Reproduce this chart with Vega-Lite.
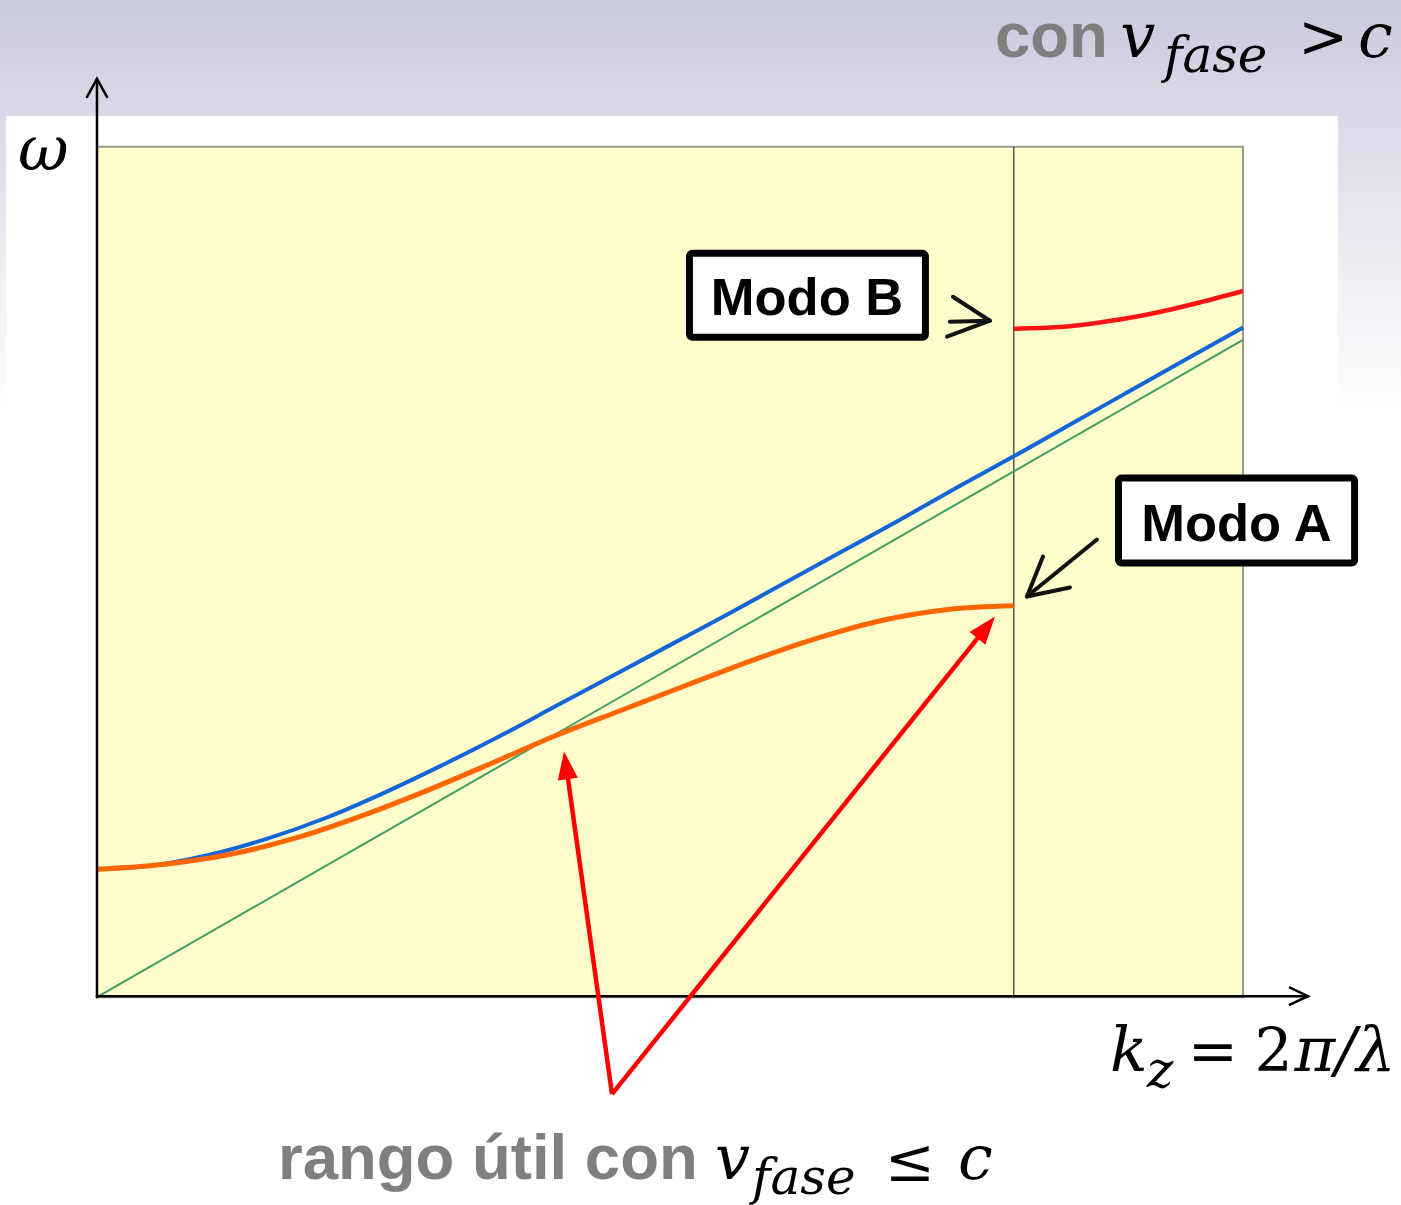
{
  "$schema": "https://vega.github.io/schema/vega-lite/v6.json",
  "width": 1401,
  "height": 1205,
  "autosize": {"type": "fit", "contains": "padding"},
  "padding": 0,
  "background": "#ffffff",
  "config": {"view": {"stroke": null}},
  "datasets": {
    "backdrop": [{"x0": -0.8464, "x1": 11.379, "y0": 6.9, "y1": 11.727}],
    "slide": [{"x0": -0.794, "x1": 10.829, "y0": -2.4324, "y1": 10.364}],
    "panel": [{"x0": 0, "x1": 10, "y0": 0, "y1": 10}],
    "cutoff": [{"k": 8, "w0": 0, "w1": 10}],
    "curves": [
      {"series": "luz", "k": 0, "w": 0},
      {"series": "luz", "k": 2, "w": 1.546},
      {"series": "luz", "k": 4, "w": 3.092},
      {"series": "luz", "k": 6, "w": 4.638},
      {"series": "luz", "k": 8, "w": 6.184},
      {"series": "luz", "k": 10, "w": 7.73},
      {"series": "guia", "k": 0, "w": 1.504},
      {"series": "guia", "k": 0.5, "w": 1.55},
      {"series": "guia", "k": 1, "w": 1.68},
      {"series": "guia", "k": 1.5, "w": 1.87},
      {"series": "guia", "k": 2, "w": 2.11},
      {"series": "guia", "k": 2.5, "w": 2.4},
      {"series": "guia", "k": 3, "w": 2.72},
      {"series": "guia", "k": 3.5, "w": 3.06},
      {"series": "guia", "k": 4, "w": 3.42},
      {"series": "guia", "k": 4.5, "w": 3.78},
      {"series": "guia", "k": 5, "w": 4.14},
      {"series": "guia", "k": 5.5, "w": 4.5},
      {"series": "guia", "k": 6, "w": 4.87},
      {"series": "guia", "k": 6.5, "w": 5.24},
      {"series": "guia", "k": 7, "w": 5.61},
      {"series": "guia", "k": 7.5, "w": 5.99},
      {"series": "guia", "k": 8, "w": 6.36},
      {"series": "guia", "k": 8.5, "w": 6.74},
      {"series": "guia", "k": 9, "w": 7.12},
      {"series": "guia", "k": 9.5, "w": 7.5},
      {"series": "guia", "k": 10, "w": 7.875},
      {"series": "modoA", "k": 0, "w": 1.504},
      {"series": "modoA", "k": 0.571, "w": 1.561},
      {"series": "modoA", "k": 1.143, "w": 1.675},
      {"series": "modoA", "k": 1.714, "w": 1.864},
      {"series": "modoA", "k": 2.286, "w": 2.121},
      {"series": "modoA", "k": 2.857, "w": 2.418},
      {"series": "modoA", "k": 3.429, "w": 2.743},
      {"series": "modoA", "k": 4.0, "w": 3.074},
      {"series": "modoA", "k": 4.571, "w": 3.371},
      {"series": "modoA", "k": 5.143, "w": 3.668},
      {"series": "modoA", "k": 5.714, "w": 3.959},
      {"series": "modoA", "k": 6.286, "w": 4.222},
      {"series": "modoA", "k": 6.857, "w": 4.433},
      {"series": "modoA", "k": 7.429, "w": 4.559},
      {"series": "modoA", "k": 8.0, "w": 4.602},
      {"series": "modoB", "k": 8.0, "w": 7.861},
      {"series": "modoB", "k": 8.4, "w": 7.88},
      {"series": "modoB", "k": 8.75, "w": 7.935},
      {"series": "modoB", "k": 9.19, "w": 8.035},
      {"series": "modoB", "k": 9.62, "w": 8.17},
      {"series": "modoB", "k": 10.0, "w": 8.305}
    ],
    "axes": [
      {"path": "yaxis", "i": 0, "k": 0, "w": 0},
      {"path": "yaxis", "i": 1, "k": 0, "w": 10.8},
      {"path": "yhead", "i": 0, "k": -0.0873, "w": 10.588},
      {"path": "yhead", "i": 1, "k": 0, "w": 10.8},
      {"path": "yhead", "i": 2, "k": 0.0873, "w": 10.588},
      {"path": "xaxis", "i": 0, "k": 0, "w": 0.012},
      {"path": "xaxis", "i": 1, "k": 10.567, "w": 0.012},
      {"path": "xhead", "i": 0, "k": 10.41, "w": 0.112},
      {"path": "xhead", "i": 1, "k": 10.567, "w": 0.012},
      {"path": "xhead", "i": 2, "k": 10.41, "w": -0.088}
    ],
    "pointers": [
      {"path": "bShaft", "i": 0, "k": 7.443, "w": 7.944},
      {"path": "bShaft", "i": 1, "k": 7.792, "w": 7.955},
      {"path": "bHead", "i": 0, "k": 7.469, "w": 8.237},
      {"path": "bHead", "i": 1, "k": 7.792, "w": 7.955},
      {"path": "bHead", "i": 2, "k": 7.417, "w": 7.768},
      {"path": "aShaft", "i": 0, "k": 8.726, "w": 5.382},
      {"path": "aShaft", "i": 1, "k": 8.115, "w": 4.712},
      {"path": "aHead", "i": 0, "k": 8.255, "w": 5.182},
      {"path": "aHead", "i": 1, "k": 8.115, "w": 4.712},
      {"path": "aHead", "i": 2, "k": 8.49, "w": 4.818}
    ],
    "shafts": [
      {"path": "uno", "i": 0, "k": 4.494, "w": -1.14},
      {"path": "uno", "i": 1, "k": 4.101, "w": 2.656},
      {"path": "dos", "i": 0, "k": 4.494, "w": -1.14},
      {"path": "dos", "i": 1, "k": 7.727, "w": 4.294}
    ],
    "tips": [
      {"tip": "uno", "k": 4.075, "w": 2.891},
      {"tip": "dos", "k": 7.836, "w": 4.477}
    ],
    "boxes": [
      {"name": "Modo B", "x0": 5.17, "x1": 7.229, "y0": 7.761, "y1": 8.748},
      {"name": "Modo A", "x0": 8.914, "x1": 10.974, "y0": 5.106, "y1": 6.105}
    ],
    "labels": [
      {"role": "box", "txt": "Modo B", "k": 6.196, "w": 8.026},
      {"role": "box", "txt": "Modo A", "k": 9.943, "w": 5.37},
      {"role": "gray", "txt": "con", "k": 7.836, "w": 11.057},
      {"role": "math", "txt": "v", "k": 8.93, "w": 11.057},
      {"role": "sub", "txt": "fase", "k": 9.31, "w": 10.88},
      {"role": "opC", "txt": ">", "k": 10.7, "w": 11.057},
      {"role": "math", "txt": "c", "k": 11.003, "w": 11.057},
      {"role": "gray", "txt": "rango útil con", "k": 1.579, "w": -2.139},
      {"role": "math", "txt": "v", "k": 5.393, "w": -2.139},
      {"role": "sub", "txt": "fase", "k": 5.716, "w": -2.315},
      {"role": "opC", "txt": "≤", "k": 7.094, "w": -2.16},
      {"role": "math", "txt": "c", "k": 7.513, "w": -2.139},
      {"role": "math", "txt": "ω", "k": -0.689, "w": 9.73},
      {"role": "math", "txt": "k", "k": 8.839, "w": -0.87},
      {"role": "sub", "txt": "z", "k": 9.162, "w": -1.058},
      {"role": "opC", "txt": "=", "k": 9.738, "w": -0.87},
      {"role": "opL", "txt": "2", "k": 10.1, "w": -0.87},
      {"role": "math", "txt": "π/λ", "k": 10.45, "w": -0.87}
    ]
  },
  "encoding": {
    "x": {"type": "quantitative", "scale": {"domain": [-0.8464, 11.379], "nice": false, "zero": false}, "axis": null},
    "y": {"type": "quantitative", "scale": {"domain": [-2.4324, 11.727], "nice": false, "zero": false}, "axis": null}
  },
  "layer": [
    {
      "data": {"name": "backdrop"},
      "mark": {"type": "rect", "fill": {"gradient": "linear", "x1": 0, "y1": 0, "x2": 0, "y2": 1, "stops": [{"offset": 0, "color": "#c9c9dd"}, {"offset": 0.35, "color": "#dedeea"}, {"offset": 1, "color": "#ffffff"}]}},
      "encoding": {"x": {"field": "x0"}, "x2": {"field": "x1"}, "y": {"field": "y0"}, "y2": {"field": "y1"}}
    },
    {
      "data": {"name": "slide"},
      "mark": {"type": "rect", "fill": "#ffffff"},
      "encoding": {"x": {"field": "x0"}, "x2": {"field": "x1"}, "y": {"field": "y0"}, "y2": {"field": "y1"}}
    },
    {
      "data": {"name": "panel"},
      "mark": {"type": "rect", "fill": "#fffdcc", "stroke": "#9a9a90", "strokeWidth": 2},
      "encoding": {"x": {"field": "x0"}, "x2": {"field": "x1"}, "y": {"field": "y0"}, "y2": {"field": "y1"}}
    },
    {
      "data": {"name": "cutoff"},
      "mark": {"type": "rule", "color": "#555555", "strokeWidth": 1.5},
      "encoding": {"x": {"field": "k"}, "y": {"field": "w0"}, "y2": {"field": "w1"}}
    },
    {
      "data": {"name": "curves"},
      "transform": [{"filter": "datum.series === 'luz'"}],
      "mark": {"type": "line", "color": "#3f9f62", "strokeWidth": 2},
      "encoding": {"x": {"field": "k"}, "y": {"field": "w"}}
    },
    {
      "data": {"name": "curves"},
      "transform": [{"filter": "datum.series === 'guia'"}],
      "mark": {"type": "line", "color": "#1466d6", "strokeWidth": 4, "interpolate": "monotone"},
      "encoding": {"x": {"field": "k"}, "y": {"field": "w"}}
    },
    {
      "data": {"name": "curves"},
      "transform": [{"filter": "datum.series === 'modoA'"}],
      "mark": {"type": "line", "color": "#ff6600", "strokeWidth": 5, "interpolate": "monotone"},
      "encoding": {"x": {"field": "k"}, "y": {"field": "w"}}
    },
    {
      "data": {"name": "curves"},
      "transform": [{"filter": "datum.series === 'modoB'"}],
      "mark": {"type": "line", "color": "#ff1414", "strokeWidth": 4.5, "interpolate": "monotone"},
      "encoding": {"x": {"field": "k"}, "y": {"field": "w"}}
    },
    {
      "data": {"name": "axes"},
      "mark": {"type": "line", "color": "#000000", "strokeWidth": 2.5, "strokeCap": "round"},
      "encoding": {"x": {"field": "k"}, "y": {"field": "w"}, "detail": {"field": "path"}, "order": {"field": "i"}}
    },
    {
      "data": {"name": "pointers"},
      "mark": {"type": "line", "color": "#111111", "strokeWidth": 4, "strokeCap": "round", "strokeJoin": "round"},
      "encoding": {"x": {"field": "k"}, "y": {"field": "w"}, "detail": {"field": "path"}, "order": {"field": "i"}}
    },
    {
      "data": {"name": "shafts"},
      "mark": {"type": "line", "color": "#ff0000", "strokeWidth": 4.5},
      "encoding": {"x": {"field": "k"}, "y": {"field": "w"}, "detail": {"field": "path"}, "order": {"field": "i"}}
    },
    {
      "data": {"name": "tips"},
      "transform": [{"filter": "datum.tip === 'uno'"}],
      "mark": {"type": "point", "shape": "M0,0L0.36,1L-0.36,1Z", "size": 3136, "angle": -7.9, "filled": true, "color": "#ff0000", "opacity": 1},
      "encoding": {"x": {"field": "k"}, "y": {"field": "w"}}
    },
    {
      "data": {"name": "tips"},
      "transform": [{"filter": "datum.tip === 'dos'"}],
      "mark": {"type": "point", "shape": "M0,0L0.36,1L-0.36,1Z", "size": 3136, "angle": 38.7, "filled": true, "color": "#ff0000", "opacity": 1},
      "encoding": {"x": {"field": "k"}, "y": {"field": "w"}}
    },
    {
      "data": {"name": "boxes"},
      "mark": {"type": "rect", "fill": "#ffffff", "stroke": "#000000", "strokeWidth": 7, "cornerRadius": 3},
      "encoding": {"x": {"field": "x0"}, "x2": {"field": "x1"}, "y": {"field": "y0"}, "y2": {"field": "y1"}}
    },
    {
      "data": {"name": "labels"},
      "transform": [{"filter": "datum.role === 'box'"}],
      "mark": {"type": "text", "font": "Liberation Sans", "fontWeight": "bold", "fontSize": 52.5, "align": "center", "baseline": "alphabetic", "color": "#000000"},
      "encoding": {"x": {"field": "k"}, "y": {"field": "w"}, "text": {"field": "txt"}}
    },
    {
      "data": {"name": "labels"},
      "transform": [{"filter": "datum.role === 'gray'"}],
      "mark": {"type": "text", "font": "Liberation Sans", "fontWeight": "bold", "fontSize": 63.5, "align": "left", "baseline": "alphabetic", "color": "#7f7f7f"},
      "encoding": {"x": {"field": "k"}, "y": {"field": "w"}, "text": {"field": "txt"}}
    },
    {
      "data": {"name": "labels"},
      "transform": [{"filter": "datum.role === 'math'"}],
      "mark": {"type": "text", "font": "DejaVu Serif", "fontStyle": "italic", "fontSize": 62, "align": "left", "baseline": "alphabetic", "color": "#000000"},
      "encoding": {"x": {"field": "k"}, "y": {"field": "w"}, "text": {"field": "txt"}}
    },
    {
      "data": {"name": "labels"},
      "transform": [{"filter": "datum.role === 'sub'"}],
      "mark": {"type": "text", "font": "DejaVu Serif", "fontStyle": "italic", "fontSize": 50, "align": "left", "baseline": "alphabetic", "color": "#000000"},
      "encoding": {"x": {"field": "k"}, "y": {"field": "w"}, "text": {"field": "txt"}}
    },
    {
      "data": {"name": "labels"},
      "transform": [{"filter": "datum.role === 'opC'"}],
      "mark": {"type": "text", "font": "DejaVu Serif", "fontSize": 60, "align": "center", "baseline": "alphabetic", "color": "#000000"},
      "encoding": {"x": {"field": "k"}, "y": {"field": "w"}, "text": {"field": "txt"}}
    },
    {
      "data": {"name": "labels"},
      "transform": [{"filter": "datum.role === 'opL'"}],
      "mark": {"type": "text", "font": "DejaVu Serif", "fontSize": 60, "align": "left", "baseline": "alphabetic", "color": "#000000"},
      "encoding": {"x": {"field": "k"}, "y": {"field": "w"}, "text": {"field": "txt"}}
    }
  ]
}
